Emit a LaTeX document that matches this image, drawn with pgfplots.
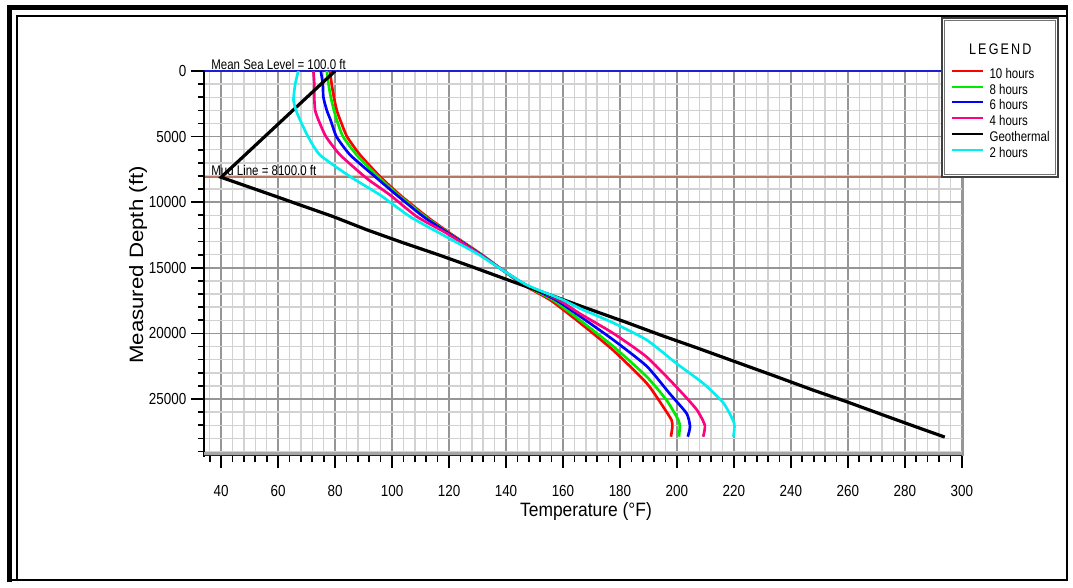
\documentclass[border=0pt]{standalone}
\usepackage{pgfplots}
\pgfplotsset{compat=1.18}
\usepackage{fontspec}
\setmainfont{Liberation Sans}
\newfontfamily\tickfont{Liberation Sans}[FakeStretch=0.84]
\newfontfamily\annfont{Liberation Sans}[FakeStretch=0.82]
\newfontfamily\ylabfont{Liberation Sans}[FakeStretch=1.15]
\newfontfamily\xlabfont{Liberation Sans}[FakeStretch=0.9]

\definecolor{cRed}{RGB}{255,0,0}
\definecolor{cGreen}{RGB}{0,235,0}
\definecolor{cBlue}{RGB}{0,0,255}
\definecolor{cPink}{RGB}{255,0,128}
\definecolor{cCyan}{RGB}{0,240,240}
\definecolor{msl}{RGB}{30,30,210}
\definecolor{mud}{RGB}{180,120,100}
\definecolor{gridlight}{RGB}{210,210,210}
\definecolor{griddark}{RGB}{150,150,150}

\begin{document}
\begin{tikzpicture}
\begin{scope}[x=0.75pt,y=-0.75pt]
  \useasboundingbox (0,0) rectangle (1073,588);
\end{scope}

\begin{axis}[
  at={(153.225pt,-341.25pt)}, anchor=south west,
  scale only axis, width=569pt, height=288pt,
  xmin=34.1, xmax=300.4, ymin=0, ymax=29268, y dir=reverse,
  xtick={40,60,...,300}, minor xtick={36,40,...,300},
  ytick={0,5000,...,25000}, minor ytick={0,1000,...,29000},
  xticklabels={40,60,80,100,120,140,160,180,200,220,240,260,280,300},
  yticklabels={0,5000,10000,15000,20000,25000},
  scaled x ticks=false, scaled y ticks=false,
  grid=both,
  major grid style={griddark, line width=1.1pt},
  minor grid style={gridlight, line width=1.1pt},
  tick align=outside, xtick pos=lower, ytick pos=lower,
  major tick length=10pt, minor tick length=5pt,
  tick style={black, line width=1.25pt},
  axis line style={draw=none},
  tick label style={font=\tickfont\fontsize{12}{12}\selectfont},
  xticklabel style={yshift=-9.5pt},
  clip mode=individual,
]
  % water column reference lines
  \draw[msl, line width=1.5pt] (axis cs:34.1,0) -- (axis cs:300.4,0);
  \draw[mud, line width=1.5pt] (axis cs:34.1,8100) -- (axis cs:300.4,8100);
  \node[anchor=base west, inner sep=0pt, font=\annfont\fontsize{10.5}{10.5}\selectfont] at (axis cs:36.5,-110) {Mean Sea Level = 100.0 ft};
  \node[anchor=base west, inner sep=0pt, font=\annfont\fontsize{10.5}{10.5}\selectfont] at (axis cs:36.5,7970) {Mud Line = 8100.0 ft};

  % 10 hours
  \addplot[cRed, line width=2pt, smooth, tension=0.35] coordinates {
    (78.2,0) (78.8,1000) (79.6,2000) (80.6,3000) (81.8,3730) (84.2,5000)
    (88.8,6400) (95.8,8050) (102.8,9450) (112.2,11100) (120.4,12370)
    (130.9,13900) (139,15200) (146,16300) (155.5,17450) (166,19200)
    (177.7,21300) (189.4,23800) (195.2,25600) (198.1,26600) (198.4,27100) (197.9,27870)};
  % 8 hours
  \addplot[cGreen, line width=2pt, smooth, tension=0.35] coordinates {
    (77.1,0) (77.7,1000) (78.5,2000) (79.6,3000) (80.6,3730) (82.8,5000)
    (87.6,6400) (95.3,8100) (102.2,9450) (111.6,11100) (120,12370)
    (130.7,13900) (139,15200) (146.4,16300) (156.5,17450) (166,19000)
    (177.7,21000) (189.4,23300) (196.4,25100) (200.5,26600) (201,27100) (200.7,27870)};
  % 6 hours
  \addplot[cBlue, line width=2pt, smooth, tension=0.35] coordinates {
    (75,0) (75.7,1000) (75.9,2000) (77.1,3000) (78.4,3730) (80.5,5000)
    (85.3,6400) (94.3,8100) (101.6,9450) (111,11100) (119.8,12370)
    (130.5,13900) (139,15200) (146.8,16300) (157.5,17450) (166,18700)
    (177.7,20500) (189.4,22500) (197.5,24600) (203.4,26100) (204.6,27100) (203.8,27870)};
  % 4 hours
  \addplot[cPink, line width=2pt, smooth, tension=0.35] coordinates {
    (72.4,0) (72.7,1000) (72.7,2000) (73,3000) (74.3,3800) (76.8,5000)
    (81.8,6400) (91.1,8180) (99.3,9450) (108.7,11100) (119.2,12370)
    (130.3,13900) (139,15200) (147,16300) (158.5,17450) (166,18500)
    (177.7,20000) (189.4,21800) (199.9,24100) (206.9,25800) (209.8,27000) (209.2,27870)};
  % geothermal
  \addplot[black, line width=2.4pt] coordinates {
    (80,0) (40,8100) (59.8,9600) (66,10080) (79.4,11100) (91.1,12100)
    (104,13100) (116.2,14000) (127.8,14900) (142.4,16060) (157.2,17200)
    (166,17900) (181.5,19100) (195.2,20200) (207,21100) (221,22200)
    (235,23300) (247.5,24300) (259.5,25200) (273.4,26300) (286.2,27300) (294,27900)};
  % 2 hours
  \addplot[cCyan, line width=2pt, smooth, tension=0.35] coordinates {
    (67.1,0) (66,1000) (65.4,2200) (66.3,3000) (67.7,3730) (70.5,5000)
    (74.7,6400) (85.3,8050) (95.8,9450) (106.3,11100) (116.8,12370)
    (129.7,13900) (139,15200) (147.2,16300) (160,17450) (166,18100)
    (177.7,19200) (189.4,20500) (199.9,22300) (209.2,23800) (216.3,25300)
    (220.1,26850) (219.8,27870)};
\end{axis}

\begin{scope}[x=0.75pt,y=-0.75pt]
  % plot frame edges
  \draw[black, line width=1.4pt] (204.3,71) -- (204.3,457);
  \draw[gray!70, line width=2.2pt] (204.3,453.3) -- (963,453.3);
  \draw[black!85, line width=0.9pt] (204.3,455.6) -- (963,455.6);
  \draw[griddark, line width=1.2pt] (963,71) -- (963,456);

  % outer border
  \draw[line width=3.75pt] (9.5,582) -- (9.5,7.5) -- (1067.5,7.5);
  \draw[line width=1.1pt] (17,580) -- (17,16) -- (1067,16);
  \draw[line width=1.5pt] (9.5,580) -- (1066.7,580) -- (1066.7,7.5);

  % axis titles
  \node[rotate=90, font=\ylabfont\fontsize{14.5}{14.5}\selectfont] at (138,265) {Measured Depth (ft)};
  \node[font=\xlabfont\fontsize{14.5}{14.5}\selectfont] at (586,511) {Temperature (\textdegree F)};

  % legend
  \fill[white] (942,18) rectangle (1058,177);
  \draw[black!75, line width=1.2pt] (942,18) rectangle (1058,177);
  \draw[black!55, line width=0.5pt] (944.5,20.5) rectangle (1055.5,174.5);
  \begin{scope}[every node/.style={anchor=base west, inner sep=0pt, font=\annfont\fontsize{10.5}{10.5}\selectfont}]
    \node[anchor=base, font=\annfont\fontsize{11.5}{11.5}\selectfont] at (1000.3,54.3) {L\hspace{1.6pt}E\hspace{1.6pt}G\hspace{1.6pt}E\hspace{1.6pt}N\hspace{1.6pt}D};
    \draw[cRed, line width=1.3pt] (951.7,70.7) -- (983.3,70.7);
    \node at (989.3,78.3) {10 hours};
    \draw[cGreen, line width=1.3pt] (951.7,86.7) -- (983.3,86.7);
    \node at (989.3,94.3) {8 hours};
    \draw[cBlue, line width=1.3pt] (951.7,102.3) -- (983.3,102.3);
    \node at (989.3,109.9) {6 hours};
    \draw[cPink, line width=1.3pt] (951.7,118.3) -- (983.3,118.3);
    \node at (989.3,125.9) {4 hours};
    \draw[black, line width=1.3pt] (951.7,134) -- (983.3,134);
    \node at (989.3,141.6) {Geothermal};
    \draw[cCyan, line width=1.3pt] (951.7,150.3) -- (983.3,150.3);
    \node at (989.3,157.9) {2 hours};
  \end{scope}
\end{scope}
\end{tikzpicture}
\end{document}
